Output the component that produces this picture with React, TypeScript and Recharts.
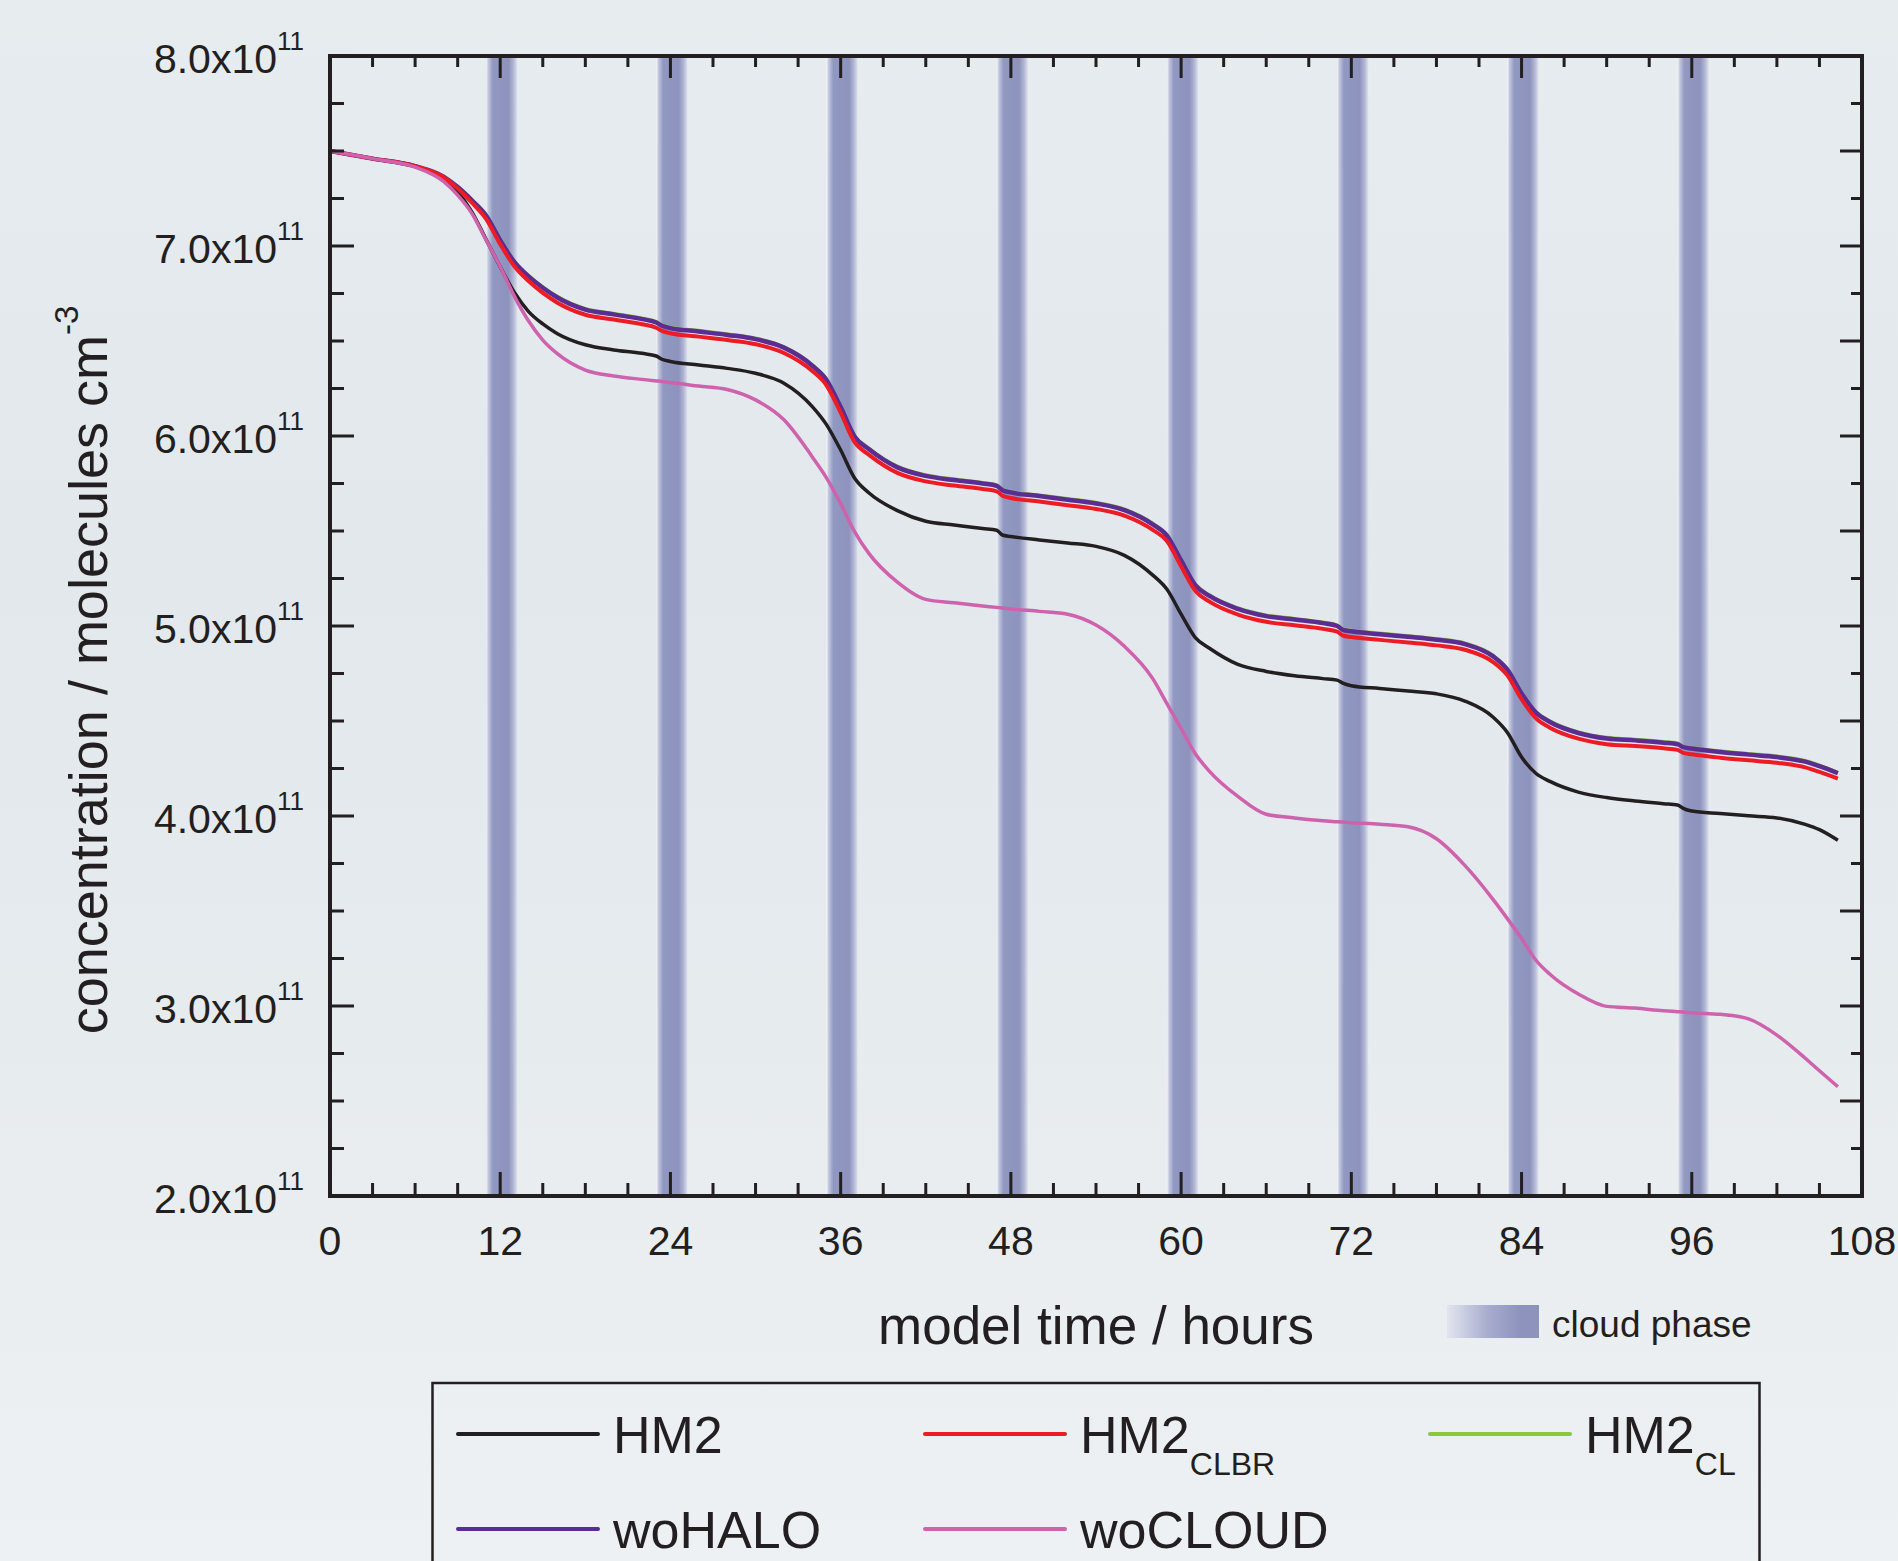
import React from "react";
import {
  LineChart,
  Line,
  XAxis,
  YAxis,
  ReferenceArea,
  Legend,
} from "recharts";

const FONT = '"Liberation Sans", Arial, Helvetica, sans-serif';
const INK = "#231f20";

// model time (hours)
const hours = [
  0, 3, 6, 8, 9, 10, 11, 12, 13, 14, 15, 16, 18, 20, 22, 23, 23.4, 24, 26, 28,
  30, 32, 34, 35, 36, 37, 38, 40, 42, 44, 46, 47, 47.4, 48, 50, 52, 54, 56, 58, 59,
  60, 61, 62, 64, 66, 68, 70, 71, 71.4, 72, 74, 76, 78, 80, 82, 83, 84, 85, 86, 88,
  90, 92, 94, 95, 95.4, 96, 98, 100, 102, 104, 105, 106.3,
];

// concentration, units of 10^11 molecules cm^-3
const hm2 = [
  7.5, 7.46, 7.42, 7.355, 7.285, 7.18, 7.035, 6.89, 6.755, 6.655, 6.59, 6.54, 6.48, 6.453, 6.435, 6.421, 6.404, 6.392, 6.374, 6.356,
  6.33, 6.278, 6.155, 6.06, 5.926, 5.776, 5.7, 5.607, 5.551, 5.532, 5.513, 5.504, 5.479, 5.471, 5.453, 5.437, 5.419, 5.372, 5.268, 5.193,
  5.062, 4.939, 4.883, 4.798, 4.761, 4.738, 4.723, 4.715, 4.699, 4.686, 4.671, 4.658, 4.643, 4.605, 4.52, 4.44, 4.31, 4.225, 4.182, 4.126,
  4.097, 4.079, 4.065, 4.058, 4.04, 4.026, 4.013, 4.001, 3.99, 3.956, 3.928, 3.872,
];
const hm2Clbr = [
  7.5, 7.46, 7.42, 7.362, 7.303, 7.228, 7.143, 7.01, 6.893, 6.815, 6.753, 6.703, 6.638, 6.613, 6.588, 6.57, 6.553, 6.541, 6.523, 6.505,
  6.483, 6.437, 6.342, 6.267, 6.123, 5.966, 5.901, 5.806, 5.761, 5.739, 5.721, 5.709, 5.686, 5.674, 5.655, 5.636, 5.616, 5.581, 5.506, 5.447,
  5.315, 5.185, 5.128, 5.06, 5.022, 5.004, 4.985, 4.97, 4.95, 4.942, 4.927, 4.913, 4.898, 4.875, 4.81, 4.74, 4.615, 4.515, 4.465, 4.407,
  4.378, 4.368, 4.356, 4.348, 4.332, 4.325, 4.307, 4.293, 4.28, 4.256, 4.232, 4.197,
];
const hm2Cl = [
  7.5, 7.46, 7.42, 7.366, 7.313, 7.245, 7.166, 7.036, 6.921, 6.846, 6.786, 6.736, 6.671, 6.646, 6.621, 6.603, 6.586, 6.574, 6.556, 6.538,
  6.516, 6.471, 6.376, 6.301, 6.158, 6.001, 5.936, 5.841, 5.796, 5.774, 5.756, 5.744, 5.721, 5.709, 5.69, 5.671, 5.651, 5.616, 5.541, 5.482,
  5.351, 5.221, 5.164, 5.096, 5.058, 5.04, 5.021, 5.006, 4.986, 4.978, 4.963, 4.949, 4.934, 4.911, 4.846, 4.776, 4.651, 4.551, 4.501, 4.443,
  4.414, 4.404, 4.392, 4.384, 4.368, 4.361, 4.343, 4.329, 4.316, 4.292, 4.268, 4.231,
];
const woHalo = [
  7.5, 7.46, 7.42, 7.365, 7.31, 7.24, 7.16, 7.03, 6.915, 6.84, 6.78, 6.73, 6.665, 6.64, 6.615, 6.597, 6.58, 6.568, 6.55, 6.532,
  6.51, 6.465, 6.37, 6.295, 6.152, 5.995, 5.93, 5.835, 5.79, 5.768, 5.75, 5.738, 5.715, 5.703, 5.684, 5.665, 5.645, 5.61, 5.535, 5.476,
  5.345, 5.215, 5.158, 5.09, 5.052, 5.034, 5.015, 5.0, 4.98, 4.972, 4.957, 4.943, 4.928, 4.905, 4.84, 4.77, 4.645, 4.545, 4.495, 4.437,
  4.408, 4.398, 4.386, 4.378, 4.362, 4.355, 4.337, 4.323, 4.31, 4.286, 4.262, 4.225,
];
const woCloud = [
  7.5, 7.46, 7.415, 7.34, 7.268, 7.172, 7.032, 6.891, 6.735, 6.605, 6.505, 6.435, 6.347, 6.316, 6.298, 6.29, 6.287, 6.281, 6.263, 6.245,
  6.19, 6.085, 5.89, 5.78, 5.644, 5.494, 5.381, 5.231, 5.14, 5.122, 5.105, 5.098, 5.095, 5.09, 5.077, 5.062, 5.005, 4.893, 4.723, 4.592,
  4.46, 4.328, 4.235, 4.103, 4.009, 3.99, 3.975, 3.97, 3.968, 3.965, 3.956, 3.943, 3.88, 3.74, 3.56, 3.46, 3.355, 3.242, 3.167, 3.063,
  2.998, 2.989, 2.975, 2.97, 2.968, 2.964, 2.956, 2.932, 2.847, 2.725, 2.659, 2.575,
];

// cloud phases (hours)
const cloudStart = [11, 23, 35, 47, 59, 71, 83, 95];
const cloudEnd = [13.2, 25.2, 37.2, 49.2, 61.2, 73.2, 85.2, 97.2];

// axis ticks
const hourTicks = [
  0, 3, 6, 9, 12, 15, 18, 21, 24, 27, 30, 33, 36, 39, 42, 45, 48, 51, 54,
  57, 60, 63, 66, 69, 72, 75, 78, 81, 84, 87, 90, 93, 96, 99, 102, 105, 108,
];
const concTicks = [
  2, 2.25, 2.5, 2.75, 3, 3.25, 3.5, 3.75, 4, 4.25, 4.5, 4.75, 5,
  5.25, 5.5, 5.75, 6, 6.25, 6.5, 6.75, 7, 7.25, 7.5, 7.75, 8,
];

const series = [
  { key: "hm2", base: "HM2", sub: "", color: "#231f20", width: 3.5 },
  { key: "hm2Clbr", base: "HM2", sub: "CLBR", color: "#ed1c24", width: 4 },
  { key: "hm2Cl", base: "HM2", sub: "CL", color: "#8dc63f", width: 3 },
  { key: "woHalo", base: "woHALO", sub: "", color: "#5b2c91", width: 4.5 },
  { key: "woCloud", base: "woCLOUD", sub: "", color: "#cf62ad", width: 3.5 },
];
const drawOrder = ["hm2", "hm2Cl", "woHalo", "hm2Clbr", "woCloud"];

const rows = hours.map((h, i) => ({
  hour: h,
  hm2: hm2[i],
  hm2Clbr: hm2Clbr[i],
  hm2Cl: hm2Cl[i],
  woHalo: woHalo[i],
  woCloud: woCloud[i],
}));

const axisLine = { stroke: INK, strokeWidth: 4, strokeLinecap: "square" as const };

function BottomTick(props: any) {
  const { x, y, payload } = props;
  const major = payload.value % 12 === 0;
  return (
    <g>
      <line x1={x} x2={x} y1={y} y2={y - (major ? 24 : 13)} stroke={INK} strokeWidth={3} />
      {major && (
        <text x={x} y={y + 59} textAnchor="middle" fontSize={41} fill={INK} fontFamily={FONT}>
          {payload.value}
        </text>
      )}
    </g>
  );
}

function TopTick(props: any) {
  const { x, y, payload } = props;
  const major = payload.value % 12 === 0;
  return <line x1={x} x2={x} y1={y} y2={y + (major ? 22 : 11)} stroke={INK} strokeWidth={3} />;
}

function LeftTick(props: any) {
  const { x, y, payload } = props;
  const v = payload.value;
  const major = Number.isInteger(v);
  return (
    <g>
      <line x1={x} x2={x + (major ? 24 : 14)} y1={y} y2={y} stroke={INK} strokeWidth={3} />
      {major && (
        <text x={x - 26} y={y + 17} textAnchor="end" fontSize={41} fill={INK} fontFamily={FONT}>
          {v.toFixed(1)}x10
          <tspan fontSize={26} dy={-23}>11</tspan>
        </text>
      )}
    </g>
  );
}

function RightTick(props: any) {
  const { x, y, payload } = props;
  const major = Number.isInteger(payload.value * 2);
  return <line x1={x} x2={x - (major ? 22 : 11)} y1={y} y2={y} stroke={INK} strokeWidth={3} />;
}

function XTitle(props: any) {
  const vb = props.viewBox || { x: 330, y: 1196, width: 1532, height: 365 };
  return (
    <text x={vb.x + vb.width / 2} y={vb.y + 148} textAnchor="middle" fontSize={53} fill={INK} fontFamily={FONT}>
      model time / hours
    </text>
  );
}

function YTitle(props: any) {
  const vb = props.viewBox || { x: 0, y: 56, width: 330, height: 1140 };
  const cx = vb.x + 107;
  const cy = vb.y + vb.height / 2 + 44;
  return (
    <text
      x={cx}
      y={cy}
      transform={`rotate(-90, ${cx}, ${cy})`}
      textAnchor="middle"
      fontSize={54}
      fill={INK}
      fontFamily={FONT}
    >
      concentration / molecules cm
      <tspan fontSize={33} dy={-29}>-3</tspan>
    </text>
  );
}

const keyCols = [458, 925, 1430];
const keyRows = [144, 239];
const keySlots = [
  [0, 0],
  [1, 0],
  [2, 0],
  [0, 1],
  [1, 1],
];

function ChartKey() {
  return (
    <svg width={1898} height={271} style={{ display: "block" }}>
      <defs>
        <linearGradient id="keySwatch" x1="0" x2="1" y1="0" y2="0">
          <stop offset="0" stopColor="#e2e5ef" />
          <stop offset="0.45" stopColor="#a7acce" />
          <stop offset="0.8" stopColor="#8d93bd" />
          <stop offset="1" stopColor="#8d93bd" />
        </linearGradient>
      </defs>
      <rect x={1447} y={15} width={92} height={33} fill="url(#keySwatch)" />
      <text x={1552} y={47} fontSize={37} fill={INK} fontFamily={FONT}>
        cloud phase
      </text>
      <rect x={432.5} y={93} width={1327} height={220} fill="none" stroke={INK} strokeWidth={2.5} />
      {series.map((s, i) => {
        const lx = keyCols[keySlots[i][0]];
        const ly = keyRows[keySlots[i][1]];
        return (
          <g key={s.key}>
            <line x1={lx} x2={lx + 140} y1={ly} y2={ly} stroke={s.color} strokeWidth={4} strokeLinecap="round" />
            <text x={lx + 155} y={ly + 19} fontSize={52} fill={INK} fontFamily={FONT}>
              {s.base}
              {s.sub && (
                <tspan fontSize={32} dy={22}>
                  {s.sub}
                </tspan>
              )}
            </text>
          </g>
        );
      })}
    </svg>
  );
}

export default function App() {
  return (
    <div
      style={{
        position: "absolute",
        left: 0,
        top: 0,
        width: 1898,
        height: 1561,
        overflow: "hidden",
        background:
          "linear-gradient(180deg, #e7ecef 0%, #e2e8ec 35%, #e6ebee 65%, #edf1f3 100%)",
        fontFamily: FONT,
      }}
    >
      <LineChart
        width={1898}
        height={1561}
        data={rows}
        margin={{ top: 0, right: 0, bottom: 0, left: 0 }}
      >
        <defs>
          <linearGradient id="cloudBand" x1="0" x2="1" y1="0" y2="0">
            <stop offset="0" stopColor="#f3f4f8" />
            <stop offset="0.07" stopColor="#c3c7de" />
            <stop offset="0.22" stopColor="#9198c1" />
            <stop offset="0.72" stopColor="#8d93bd" />
            <stop offset="0.88" stopColor="#b2b7d5" />
            <stop offset="1" stopColor="#dfe2ed" />
          </linearGradient>
        </defs>
        {cloudStart.map((s, i) => (
          <ReferenceArea
            key={s}
            xAxisId="b"
            yAxisId="l"
            x1={s}
            x2={cloudEnd[i]}
            y1={2}
            y2={8}
            fill="url(#cloudBand)"
            fillOpacity={1}
            stroke="none"
          />
        ))}
        <XAxis
          xAxisId="b"
          dataKey="hour"
          type="number"
          domain={[0, 108]}
          ticks={hourTicks}
          interval={0}
          height={365}
          tickSize={0}
          tickMargin={0}
          tickLine={false}
          tick={BottomTick}
          axisLine={axisLine}
          label={XTitle}
          allowDataOverflow
        />
        <XAxis
          xAxisId="t"
          orientation="top"
          dataKey="hour"
          type="number"
          domain={[0, 108]}
          ticks={hourTicks}
          interval={0}
          height={56}
          tickSize={0}
          tickMargin={0}
          tickLine={false}
          tick={TopTick}
          axisLine={axisLine}
          allowDataOverflow
        />
        <YAxis
          yAxisId="l"
          type="number"
          domain={[2, 8]}
          ticks={concTicks}
          interval={0}
          width={330}
          tickSize={0}
          tickMargin={0}
          tickLine={false}
          tick={LeftTick}
          axisLine={axisLine}
          label={YTitle}
          allowDataOverflow
        />
        <YAxis
          yAxisId="r"
          orientation="right"
          type="number"
          domain={[2, 8]}
          ticks={concTicks}
          interval={0}
          width={36}
          tickSize={0}
          tickMargin={0}
          tickLine={false}
          tick={RightTick}
          axisLine={axisLine}
          allowDataOverflow
        />
        {drawOrder.map((k) => {
          const s = series.find((d) => d.key === k)!;
          return (
            <Line
              key={k}
              xAxisId="b"
              yAxisId="l"
              dataKey={k}
              name={s.base + s.sub}
              type="monotone"
              stroke={s.color}
              strokeWidth={s.width}
              dot={false}
              activeDot={false}
              isAnimationActive={false}
            />
          );
        })}
        <Legend
          layout="horizontal"
          verticalAlign="middle"
          align="center"
          content={ChartKey}
          wrapperStyle={{ left: 0, top: 1290, width: 1898, height: 271 }}
        />
      </LineChart>
    </div>
  );
}
